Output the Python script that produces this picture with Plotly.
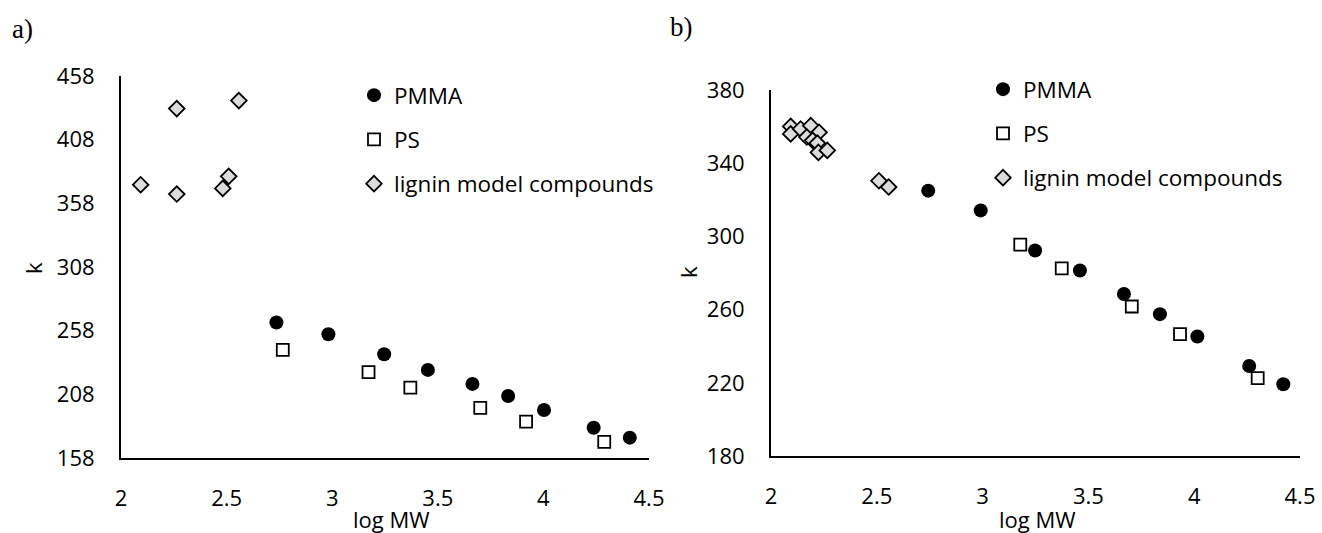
import plotly.graph_objects as go

# ---------------- Panel a data ----------------
a_pmma_x = [2.736, 2.982, 3.246, 3.453, 3.664, 3.833, 4.003, 4.238, 4.409]
a_pmma_y = [264.4, 255.2, 239.5, 227.2, 216.2, 206.7, 195.7, 181.8, 174.0]
a_ps_x = [2.766, 3.172, 3.370, 3.701, 3.918, 4.288]
a_ps_y = [242.9, 225.4, 213.3, 197.3, 186.5, 170.6]
a_lig_x = [2.093, 2.264, 2.264, 2.482, 2.510, 2.558]
a_lig_y = [372.6, 432.4, 365.3, 369.7, 379.2, 438.7]

# ---------------- Panel b data ----------------
b_pmma_x = [2.743, 2.991, 3.248, 3.460, 3.668, 3.838, 4.015, 4.260, 4.421]
b_pmma_y = [325.0, 314.2, 292.3, 281.4, 268.5, 257.5, 245.3, 229.2, 219.2]
b_ps_x = [3.178, 3.374, 3.705, 3.933, 4.300]
b_ps_y = [295.5, 282.5, 261.7, 246.6, 222.5]
b_lig_x = [2.093, 2.093, 2.140, 2.188, 2.169, 2.227, 2.197, 2.219, 2.224, 2.266, 2.510, 2.556]
b_lig_y = [360.1, 356.0, 358.7, 360.5, 354.3, 356.9, 352.5, 351.0, 345.9, 347.0, 330.4, 327.0]

a_yticks = [158, 208, 258, 308, 358, 408, 458]
b_yticks = [180, 220, 260, 300, 340, 380]
xticks = [2, 2.5, 3, 3.5, 4, 4.5]

FONT = "Open Sans"
BLACK = "#000000"
DIAMOND_FILL = "#dcdcdc"

fig = go.Figure()

def add_series(xs, ys, name, sym, color, size, lw, xa, ya, legend, group):
    fig.add_trace(go.Scatter(
        x=xs, y=ys, mode="markers", name=name,
        marker=dict(symbol=sym, color=color, size=size,
                    line=dict(color=BLACK, width=lw)),
        xaxis=xa, yaxis=ya, legend=legend, legendgroup=group,
    ))

add_series(a_pmma_x, a_pmma_y, "PMMA", "circle", BLACK, 14, 0, "x", "y", "legend", "a1")
add_series(a_ps_x, a_ps_y, "PS", "square", "white", 12, 1.8, "x", "y", "legend", "a2")
add_series(a_lig_x, a_lig_y, "lignin model compounds", "diamond", DIAMOND_FILL, 12, 1.8, "x", "y", "legend", "a3")

add_series(b_pmma_x, b_pmma_y, "PMMA", "circle", BLACK, 14, 0, "x2", "y2", "legend2", "b1")
add_series(b_ps_x, b_ps_y, "PS", "square", "white", 12, 1.8, "x2", "y2", "legend2", "b2")
add_series(b_lig_x, b_lig_y, "lignin model compounds", "diamond", DIAMOND_FILL, 12, 1.8, "x2", "y2", "legend2", "b3")

W, H = 1322, 533

def px(xp):
    return xp / W

def py(yp):
    return 1 - yp / H

axis_common = dict(
    showgrid=False, zeroline=False, showline=True, linecolor=BLACK, linewidth=2,
    ticks="outside", tickcolor="rgba(0,0,0,0)", automargin=False,
    tickfont=dict(family=FONT, size=22, color=BLACK),
)

legend_common = dict(
    font=dict(family=FONT, size=22.5, color=BLACK),
    bgcolor="rgba(0,0,0,0)", xanchor="left", yanchor="top",
    traceorder="grouped", tracegroupgap=12, itemwidth=30,
)

fig.update_layout(
    width=W, height=H,
    margin=dict(l=0, r=0, t=0, b=0, autoexpand=False),
    paper_bgcolor="white", plot_bgcolor="white",
    showlegend=True,
    xaxis=dict(domain=[px(121), px(649)], range=[2, 4.5], tickvals=xticks,
               ticklen=20, anchor="y", **axis_common),
    yaxis=dict(domain=[py(458), py(76)], range=[158, 458], tickvals=a_yticks,
               ticklen=20, anchor="x", **axis_common),
    xaxis2=dict(domain=[px(771), px(1300)], range=[2, 4.5], tickvals=xticks,
                ticklen=20, anchor="y2", **axis_common),
    yaxis2=dict(domain=[py(456), py(90)], range=[180, 380], tickvals=b_yticks,
                ticklen=20, anchor="x2", **axis_common),
    legend=dict(x=px(354), y=py(74), **legend_common),
    legend2=dict(x=px(983), y=py(68), **legend_common),
)

annots = [
    dict(text="a)", x=px(22), y=py(29), font=dict(family="Liberation Serif", size=27, color=BLACK)),
    dict(text="b)", x=px(681), y=py(27), font=dict(family="Liberation Serif", size=27, color=BLACK)),
    dict(text="log MW", x=px(391), y=py(519), font=dict(family=FONT, size=22, color=BLACK)),
    dict(text="log MW", x=px(1037), y=py(519), font=dict(family=FONT, size=22, color=BLACK)),
    dict(text="k", x=px(33), y=py(268), textangle=-90, font=dict(family=FONT, size=22, color=BLACK)),
    dict(text="k", x=px(688), y=py(272), textangle=-90, font=dict(family=FONT, size=22, color=BLACK)),
]
for a in annots:
    fig.add_annotation(xref="paper", yref="paper", showarrow=False,
                       xanchor="center", yanchor="middle", **a)

fig.write_html("out.html")
